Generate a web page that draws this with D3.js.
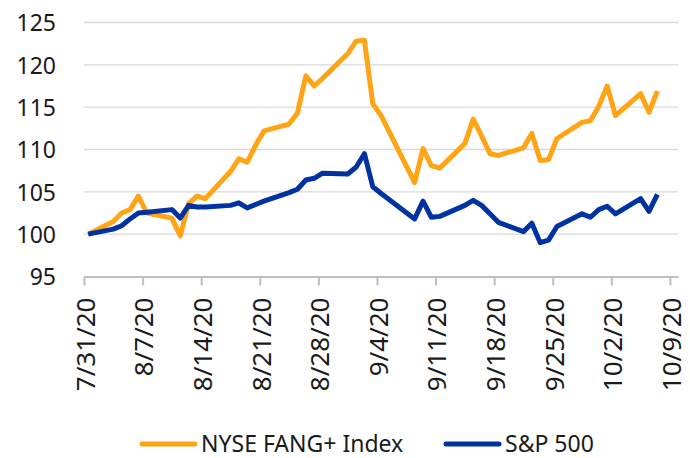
<!DOCTYPE html>
<html>
<head>
<meta charset="utf-8">
<script src="https://cdn.jsdelivr.net/npm/d3@7"></script>
<style>
  body { margin: 0; background: #fff; }
  .axis text { font-family: "Noto Sans", sans-serif; fill: #1a1a1a; }
</style>
</head>
<body>
<div id="chart"></div>
<script>
// trading days shown in the chart
var dates = [
  "2020-07-31",
  "2020-08-03", "2020-08-04", "2020-08-05", "2020-08-06", "2020-08-07",
  "2020-08-10", "2020-08-11", "2020-08-12", "2020-08-13", "2020-08-14",
  "2020-08-17", "2020-08-18", "2020-08-19", "2020-08-20", "2020-08-21",
  "2020-08-24", "2020-08-25", "2020-08-26", "2020-08-27", "2020-08-28",
  "2020-08-31", "2020-09-01", "2020-09-02", "2020-09-03", "2020-09-04",
  "2020-09-08", "2020-09-09", "2020-09-10", "2020-09-11",
  "2020-09-14", "2020-09-15", "2020-09-16", "2020-09-17", "2020-09-18",
  "2020-09-21", "2020-09-22", "2020-09-23", "2020-09-24", "2020-09-25",
  "2020-09-28", "2020-09-29", "2020-09-30", "2020-10-01", "2020-10-02",
  "2020-10-05", "2020-10-06", "2020-10-07"
];

var fangValues = [
  100,
  101.5, 102.5, 102.9, 104.5, 102.5,
  101.9, 99.8, 103.6, 104.5, 104.2,
  107.4, 108.9, 108.5, 110.5, 112.2,
  113.0, 114.3, 118.7, 117.5, 118.4,
  121.3, 122.8, 122.9, 115.4, 114.0,
  106.1, 110.1, 108.1, 107.8,
  110.7, 113.6, 111.6, 109.5, 109.3,
  110.2, 111.9, 108.7, 108.8, 111.3,
  113.2, 113.4, 115.1, 117.5, 114.0,
  116.6, 114.4, 116.9
];

var spxValues = [
  100,
  100.6, 101.0, 101.8, 102.5, 102.6,
  102.9, 101.9, 103.4, 103.2, 103.2,
  103.4, 103.7, 103.1, 103.5, 103.9,
  104.9, 105.3, 106.4, 106.6, 107.2,
  107.1, 107.9, 109.5, 105.6, 104.8,
  101.8, 103.9, 102.0, 102.1,
  103.4, 104.0, 103.4, 102.4, 101.4,
  100.3, 101.3, 99.0, 99.3, 100.9,
  102.4, 102.0, 102.9, 103.3, 102.4,
  104.2, 102.7, 104.7
];

var seriesNames = ["NYSE FANG+ Index", "S&P 500"];
var seriesColors = ["#FFA414", "#0033A1"];
var yTicks = [95, 100, 105, 110, 115, 120, 125];
var axisStart = "2020-07-31", axisEnd = "2020-10-10";

var width = 690, height = 458;
var plotLeft = 84, plotRight = 678.3, plotTop = 22.5, plotBottom = 276.5;

var parse = d3.utcParse("%Y-%m-%d");

var x = d3.scaleUtc()
    .domain([parse(axisStart), parse(axisEnd)])
    .range([plotLeft, plotRight]);

var y = d3.scaleLinear()
    .domain([95, 125])
    .range([plotBottom, plotTop]);

var svg = d3.select("#chart").append("svg")
    .attr("width", width)
    .attr("height", height);

// gridlines
svg.append("g")
  .selectAll("line")
  .data(yTicks.slice(1))
  .enter().append("line")
    .attr("x1", plotLeft)
    .attr("x2", plotRight)
    .attr("y1", function(d) { return y(d); })
    .attr("y2", function(d) { return y(d); })
    .style("stroke", "#D9D9D9")
    .style("stroke-width", 1.3);

// y axis labels (no line)
var yAxis = svg.append("g")
    .attr("class", "axis y")
    .attr("transform", "translate(" + plotLeft + ",0)")
    .call(d3.axisLeft(y).tickValues(yTicks).tickSize(0).tickPadding(28));
yAxis.select(".domain").remove();
yAxis.selectAll("text")
    .style("font-size", "23px")
    .attr("dy", "0.36em");

// x axis, weekly ticks
var tickDates = d3.utcDay.range(parse(axisStart), d3.utcDay.offset(parse(axisEnd), 1), 7);

var xAxis = svg.append("g")
    .attr("class", "axis x")
    .attr("transform", "translate(0," + plotBottom + ")")
    .call(d3.axisBottom(x)
      .tickValues(tickDates)
      .tickFormat(d3.utcFormat("%-m/%-d/%y"))
      .tickSizeInner(9)
      .tickSizeOuter(0));

xAxis.select(".domain")
    .style("stroke", "#BFBFBF")
    .style("stroke-width", 2);
xAxis.selectAll(".tick line")
    .style("stroke", "#BFBFBF")
    .style("stroke-width", 2);
xAxis.selectAll("text")
    .style("font-size", "26px")
    .style("text-anchor", "end")
    .attr("x", 0)
    .attr("y", 0)
    .attr("dy", "0.36em")
    .attr("transform", "translate(1,21) rotate(-90)");

// the two series
var series = [fangValues, spxValues].map(function(vals, i) {
  return {
    name: seriesNames[i],
    color: seriesColors[i],
    values: vals.map(function(v, j) { return { date: parse(dates[j]), value: v }; })
  };
});

// points sit in the middle of each day slot
var line = d3.line()
    .x(function(d) { return x(d3.utcHour.offset(d.date, 12)); })
    .y(function(d) { return y(d.value); });

svg.append("g")
  .selectAll("path")
  .data(series)
  .enter().append("path")
    .attr("d", function(d) { return line(d.values); })
    .style("fill", "none")
    .style("stroke", function(d) { return d.color; })
    .style("stroke-width", 5)
    .style("stroke-linejoin", "round");

// legend
var legendX = [142, 446];
var legend = svg.append("g")
  .selectAll("g")
  .data(series)
  .enter().append("g")
    .attr("transform", function(d, i) { return "translate(" + legendX[i] + ",444)"; });

legend.append("line")
    .attr("x1", 0)
    .attr("x2", 53)
    .style("stroke", function(d) { return d.color; })
    .style("stroke-width", 5)
    .style("stroke-linecap", "round");

legend.append("text")
    .attr("x", 59)
    .attr("y", 8)
    .style("font-family", "'Noto Sans', sans-serif")
    .style("font-size", "23px")
    .style("fill", "#1a1a1a")
    .text(function(d) { return d.name; });
</script>
</body>
</html>
